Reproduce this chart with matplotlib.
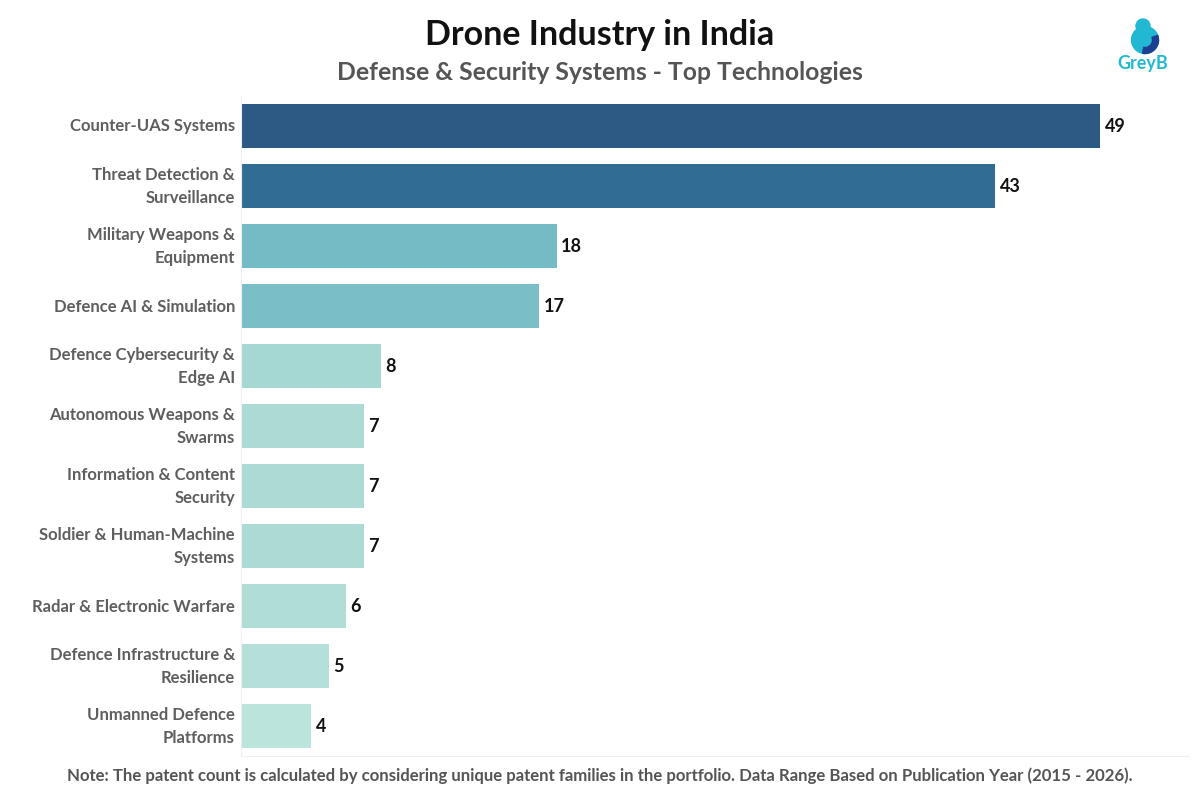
import matplotlib
matplotlib.use("Agg")
import matplotlib.pyplot as plt
from matplotlib.patches import Circle, Wedge
from matplotlib.transforms import ScaledTranslation

categories = [
    "Counter-UAS Systems",
    "Threat Detection &\nSurveillance",
    "Military Weapons &\nEquipment",
    "Defence AI & Simulation",
    "Defence Cybersecurity &\nEdge AI",
    "Autonomous Weapons &\nSwarms",
    "Information & Content\nSecurity",
    "Soldier & Human-Machine\nSystems",
    "Radar & Electronic Warfare",
    "Defence Infrastructure &\nResilience",
    "Unmanned Defence\nPlatforms",
]
values = [49, 43, 18, 17, 8, 7, 7, 7, 6, 5, 4]
colors = ["#2d5985", "#316c94", "#74bbc6", "#7abec8", "#a5d8d2", "#acdbd5",
          "#acdbd5", "#acdbd5", "#b1ddd7", "#b5dfd9", "#bbe4dc"]

plt.rcParams['font.family'] = ['Lato', 'DejaVu Sans']

fig = plt.figure(figsize=(12, 8), dpi=100)
ax = fig.add_axes([241/1200, 1-756/800, (1188-241)/1200, (756-96)/800])

y = list(range(len(categories)))
ax.barh(y, values, height=0.74, color=colors, zorder=2)
ax.set_ylim(len(categories)-0.5, -0.5)
ax.set_xlim(0, 54.0)
ax.set_yticks([])
ax.set_xticks([])
for s in ['top', 'right']:
    ax.spines[s].set_visible(False)
ax.spines['left'].set_color('#eeeeee')
ax.spines['bottom'].set_color('#eeeeee')

lab_tr = ax.get_yaxis_transform() + ScaledTranslation(-6/100, -0.5/100, fig.dpi_scale_trans)
for yi, cat in zip(y, categories):
    ax.text(0, yi, cat, transform=lab_tr, ha='right', va='center', fontsize=12,
            fontweight='bold', color='#5e5e5e', linespacing=1.52, multialignment='right')

for yi, v in zip(y, values):
    ax.text(v + 0.25, yi, str(v), va='center', ha='left', fontsize=13,
            fontweight='bold', color='#111111')

fig.text(0.5, 1-35/800, "Drone Industry in India", ha='center', va='center',
         fontsize=24.5, fontweight='bold', color='#111111')
fig.text(0.5, 1-73/800, "Defense & Security Systems - Top Technologies", ha='center',
         va='center', fontsize=17.8, fontweight='bold', color='#555555')
fig.text(0.5, 1-776/800,
         "Note: The patent count is calculated by considering unique patent families in the portfolio. "
         "Data Range Based on Publication Year (2015 - 2026).",
         ha='center', va='center', fontsize=12.1, fontweight='bold', color='#555555')

# GreyB logo
lax = fig.add_axes([1108/1200, 1-90/800, 70/1200, 80/800])
lax.set_xlim(0, 70)
lax.set_ylim(0, 80)
lax.set_aspect('equal')
lax.axis('off')
lax.add_patch(Circle((37, 50), 13.5, color='#22b8d4'))
lax.add_patch(Wedge((37, 50), 13.5, -100, 20, width=6, color='#1d3f8f'))
lax.add_patch(Circle((35, 64), 7, color='#22b8d4'))
lax.text(35, 27, "GreyB", ha='center', va='center', fontsize=13, fontweight='bold',
         color='#22b8d4')

fig.savefig("out.png", dpi=100, facecolor='white')
